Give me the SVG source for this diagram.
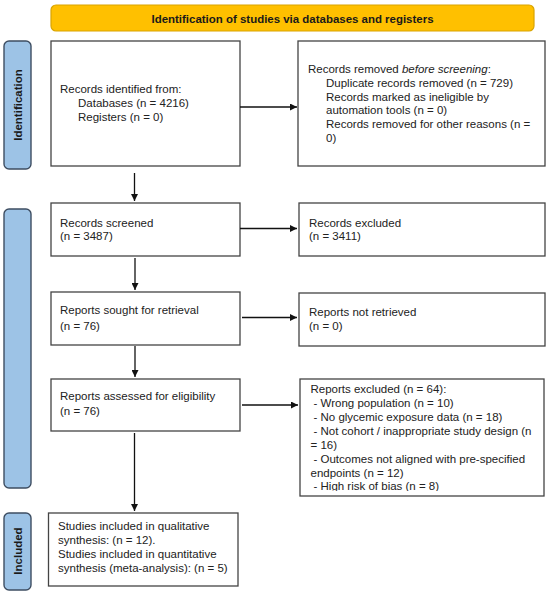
<svg xmlns="http://www.w3.org/2000/svg" width="550" height="596" viewBox="0 0 550 596">
<style>
  text { font-family: "Liberation Sans", Arial, sans-serif; font-size: 11.5px; fill: #222; }
  .box { fill: #fff; stroke: #444; stroke-width: 1.3; }
  .side { fill: #9DC3E6; stroke: #3E4E62; stroke-width: 1.4; }
  .lbl { font-weight: bold; font-size: 11.5px; text-anchor: middle; fill: #1a1a1a; }
  .conn { stroke: #111; stroke-width: 1.3; fill: none; marker-end: url(#arr); }
</style>
<defs>
  <marker id="arr" viewBox="0 0 10 10" refX="10" refY="5" markerWidth="7" markerHeight="7" markerUnits="userSpaceOnUse" orient="auto">
    <path d="M0,0 L10,5 L0,10 z" fill="#111"/>
  </marker>
  <clipPath id="clipEx">
    <rect x="300" y="379" width="244" height="112"/>
  </clipPath>
</defs>
<rect width="550" height="596" fill="#fff"/>

<g id="banner">
  <rect x="51" y="5" width="483" height="26" rx="5" fill="#FFC000" stroke="#D9A400" stroke-width="1.2"/>
  <text x="292.5" y="22.5" class="lbl" textLength="282" lengthAdjust="spacingAndGlyphs">Identification of studies via databases and registers</text>
</g>

<g id="label-identification">
  <rect class="side" x="4" y="41" width="27" height="128" rx="5"/>
  <text class="lbl" transform="translate(22,105) rotate(-90)">Identification</text>
</g>
<g id="label-screening">
  <rect class="side" x="4" y="209" width="27" height="279" rx="5"/>
</g>
<g id="label-included">
  <rect class="side" x="4" y="513" width="27" height="77" rx="5"/>
  <text class="lbl" transform="translate(22,551) rotate(-90)">Included</text>
</g>

<g id="records-identified">
  <rect class="box" x="51" y="41" width="189" height="125"/>
  <text x="60" y="93">Records identified from:</text>
  <text x="78" y="107">Databases (n = 4216)</text>
  <text x="78" y="121">Registers (n = 0)</text>
</g>
<g id="records-removed">
  <rect class="box" x="298" y="41" width="247" height="125"/>
  <text x="308" y="73">Records removed <tspan font-style="italic">before screening</tspan>:</text>
  <text x="326" y="86.8">Duplicate records removed (n = 729)</text>
  <text x="326" y="100.6">Records marked as ineligible by</text>
  <text x="326" y="114.4">automation tools (n = 0)</text>
  <text x="326" y="128.2">Records removed for other reasons (n =</text>
  <text x="326" y="142">0)</text>
</g>

<g id="records-screened">
  <rect class="box" x="51" y="203" width="189" height="53"/>
  <text x="60" y="226.5">Records screened</text>
  <text x="60" y="240">(n = 3487)</text>
</g>
<g id="records-excluded">
  <rect class="box" x="299" y="203" width="246" height="53"/>
  <text x="309" y="226.5">Records excluded</text>
  <text x="309" y="240">(n = 3411)</text>
</g>

<g id="reports-sought">
  <rect class="box" x="51" y="292" width="189" height="53"/>
  <text x="60" y="313.5">Reports sought for retrieval</text>
  <text x="60" y="330">(n = 76)</text>
</g>
<g id="reports-not-retrieved">
  <rect class="box" x="299" y="293" width="246" height="53"/>
  <text x="309" y="316">Reports not retrieved</text>
  <text x="309" y="330">(n = 0)</text>
</g>

<g id="reports-assessed">
  <rect class="box" x="51" y="379" width="189" height="52"/>
  <text x="60" y="400">Reports assessed for eligibility</text>
  <text x="60" y="415">(n = 76)</text>
</g>
<g id="reports-excluded">
  <rect class="box" x="300" y="379" width="244" height="117"/>
  <g clip-path="url(#clipEx)">
    <text x="310.5" y="393">Reports excluded (n = 64):</text>
    <text x="313.5" y="407">- Wrong population (n = 10)</text>
    <text x="313.5" y="421">- No glycemic exposure data (n = 18)</text>
    <text x="313.5" y="435">- Not cohort / inappropriate study design (n</text>
    <text x="310.5" y="449">= 16)</text>
    <text x="313.5" y="463">- Outcomes not aligned with pre-specified</text>
    <text x="310.5" y="477">endpoints (n = 12)</text>
    <text x="313.5" y="490">- High risk of bias (n = 8)</text>
  </g>
</g>

<g id="studies-included">
  <rect class="box" x="48.5" y="513" width="189.5" height="73"/>
  <text x="58" y="530">Studies included in qualitative</text>
  <text x="58" y="543.5">synthesis: (n = 12).</text>
  <text x="58" y="557.5">Studies included in quantitative</text>
  <text x="58" y="571.5">synthesis (meta-analysis): (n = 5)</text>
</g>

<g id="connectors">
  <line class="conn" x1="240" y1="107" x2="297" y2="107"/>
  <line class="conn" x1="134.5" y1="173" x2="134.5" y2="201"/>
  <line class="conn" x1="240" y1="228.5" x2="297" y2="228.5"/>
  <line class="conn" x1="135" y1="258" x2="135" y2="290"/>
  <line class="conn" x1="242" y1="317.5" x2="297" y2="317.5"/>
  <line class="conn" x1="135" y1="346" x2="135" y2="377"/>
  <line class="conn" x1="242" y1="405" x2="298" y2="405"/>
  <line class="conn" x1="134.5" y1="433" x2="134.5" y2="511"/>
</g>
</svg>
